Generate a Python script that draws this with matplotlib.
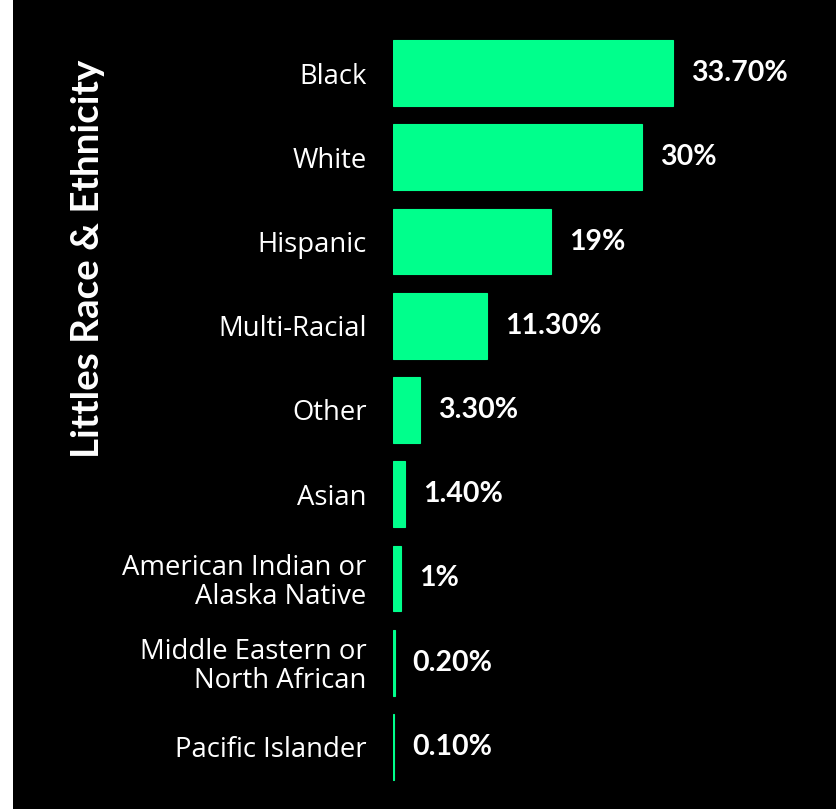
import matplotlib
matplotlib.use("Agg")
import matplotlib.pyplot as plt
from matplotlib.patches import Rectangle

categories = ["Black", "White", "Hispanic", "Multi-Racial", "Other", "Asian",
              "American Indian or\nAlaska Native", "Middle Eastern or\nNorth African",
              "Pacific Islander"]
values = [33.7, 30, 19, 11.3, 3.3, 1.4, 1, 0.2, 0.1]
value_labels = ["33.70%", "30%", "19%", "11.30%", "3.30%", "1.40%", "1%", "0.20%", "0.10%"]
title = "Littles Race & Ethnicity"

W, H = 836, 809
fig = plt.figure(figsize=(W / 100, H / 100), dpi=100, facecolor="white")
bg = fig.add_axes([13 / W, 0, 1 - 13 / W, 1], zorder=-10)
bg.set_facecolor("black")
bg.set_axis_off()
bg.add_patch(Rectangle((0, 0), 1, 1, transform=bg.transAxes, facecolor="black",
                       edgecolor="none"))

ax = fig.add_axes([393 / W, 1 - 789 / H, (836 - 393) / W, (789 - 31) / H])
ax.set_facecolor("none")
y = list(range(len(categories)))
ax.barh(y, values, height=0.78, color="#00FF8C", edgecolor="#00FF8C", linewidth=0.8)
ax.set_ylim(len(categories) - 0.5, -0.5)
ax.set_xlim(0, (836 - 393) / 8.31)
for s in ax.spines.values():
    s.set_visible(False)
ax.set_xticks([])
ax.set_yticks(y)
ax.set_yticklabels(categories, fontsize=19.8, color="white", family="Open Sans",
                   linespacing=1.05)
ax.tick_params(axis="y", length=0, pad=19)
for lab in ax.get_yticklabels():
    lab.set_horizontalalignment("right")

for yi, v, t in zip(y, values, value_labels):
    ax.annotate(t, (v, yi), xytext=(18, 0), textcoords="offset pixels",
                va="center", ha="left", color="white", fontsize=20.5,
                fontweight="bold", family="Lato")

fig.text(88 / W, 1 - 259 / H, title, rotation=90, ha="center", va="center",
         color="white", fontsize=27.7, fontweight="bold", family="Lato")

fig.savefig("out.png", dpi=100, facecolor=fig.get_facecolor())
